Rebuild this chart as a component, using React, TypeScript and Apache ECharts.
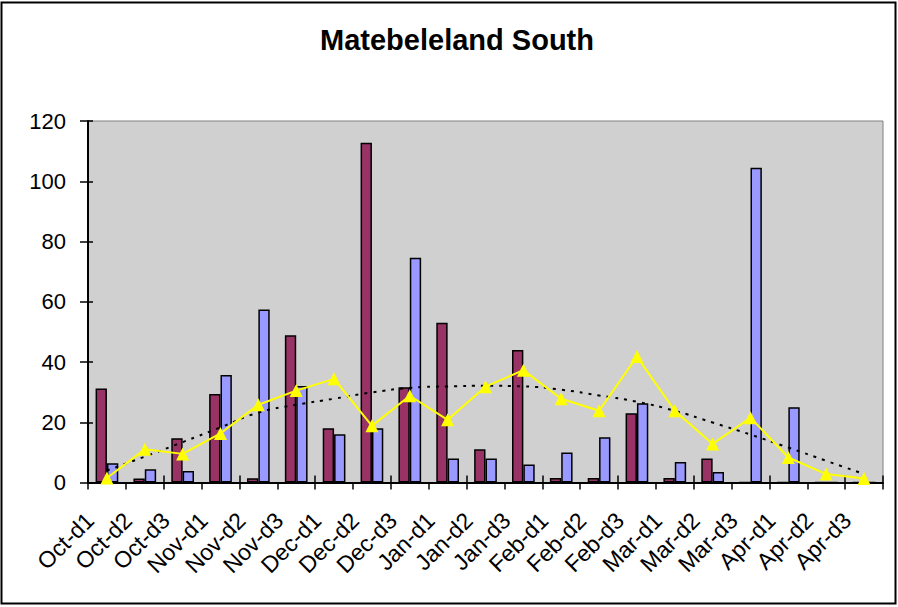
import React, { useEffect, useRef } from "react";
import * as echarts from "echarts";

const categories = [
  "Oct-d1", "Oct-d2", "Oct-d3", "Nov-d1", "Nov-d2", "Nov-d3", "Dec-d1", "Dec-d2", "Dec-d3",
  "Jan-d1", "Jan-d2", "Jan-d3", "Feb-d1", "Feb-d2", "Feb-d3", "Mar-d1", "Mar-d2", "Mar-d3",
  "Apr-d1", "Apr-d2", "Apr-d3",
];
const seriesMaroon = [31.2, 1.3, 14.7, 29.4, 1.4, 48.9, 18, 112.8, 31.6, 53, 11, 44, 1.5, 1.5, 23, 1.5, 8, 0, 0, 0, 0];
const seriesBlue = [6.4, 4.4, 3.8, 35.7, 57.4, 32, 16, 18, 74.6, 8, 8, 6, 10, 15, 26.3, 6.8, 3.5, 104.5, 25, 0, 0];
const seriesYellow = [1.5, 11, 9.5, 16.3, 25.8, 30.5, 34.4, 18.8, 28.8, 20.8, 31.8, 37.3, 27.8, 23.8, 41.8, 23.8, 12.8, 21.5, 8.3, 2.8, 1.3];
const trendValues = [4, 8.6, 13.4, 18.3, 23.2, 25.8, 27.8, 29.9, 31.4, 31.9, 32.1, 31.9, 30.8, 28.9, 26.8, 23.8, 19.9, 15.9, 11.6, 7.2, 2.8];
const yTicks = { min: 0, max: 120, interval: 20 };

export default function App() {
  const ref = useRef<HTMLDivElement>(null);
  useEffect(() => {
    if (!ref.current) return;
    const chart = echarts.init(ref.current, null, { renderer: "svg" });
    const font = "Arial, 'Liberation Sans', sans-serif";
    chart.setOption({
      animation: false,
      backgroundColor: "#ffffff",
      title: {
        text: "Matebeleland South",
        left: 452,
        top: 20,
        textAlign: "center",
        textStyle: { fontFamily: font, fontSize: 29, fontWeight: "bold", color: "#000" },
      },
      graphic: [
        {
          type: "rect",
          shape: { x: 1.5, y: 2.5, width: 894, height: 601 },
          style: { fill: "none", stroke: "#000", lineWidth: 2 },
          silent: true,
        },
      ],
      grid: {
        left: 88,
        right: 15,
        top: 121,
        bottom: 124.5,
        show: true,
        backgroundColor: "#d0d0d0",
        borderColor: "#808080",
        borderWidth: 1,
      },
      xAxis: [
        {
          type: "category",
          data: categories,
          boundaryGap: true,
          axisLine: { lineStyle: { color: "#000", width: 2 } },
          axisTick: { show: true, length: 7, lineStyle: { color: "#000", width: 1.5 } },
          axisLabel: {
            rotate: 45,
            interval: 0,
            margin: 17,
            padding: [0, 24, 0, 0],
            fontFamily: font,
            fontSize: 23,
            color: "#000",
          },
          splitLine: { show: false },
        },
        {
          type: "category",
          data: categories,
          position: "bottom",
          boundaryGap: true,
          axisLine: { show: false },
          axisTick: { show: true, inside: true, length: 7, lineStyle: { color: "#000", width: 1.5 } },
          axisLabel: { show: false },
          splitLine: { show: false },
        },
      ],
      yAxis: [
        {
          type: "value",
          ...yTicks,
          axisLine: { show: true, lineStyle: { color: "#000", width: 2 } },
          axisTick: { show: true, length: 8, lineStyle: { color: "#000", width: 1.5 } },
          axisLabel: { margin: 22, fontFamily: font, fontSize: 22, color: "#000" },
          splitLine: { show: false },
        },
        {
          type: "value",
          ...yTicks,
          position: "left",
          axisLine: { show: false },
          axisTick: { show: true, inside: true, length: 5, lineStyle: { color: "#000", width: 1.5 } },
          axisLabel: { show: false },
          splitLine: { show: false },
        },
      ],
      series: [
        {
          type: "bar",
          data: seriesMaroon,
          barGap: "0%",
          barCategoryGap: "40%",
          itemStyle: { color: "#993366", borderColor: "#000", borderWidth: 1.5 },
          z: 2,
        },
        {
          type: "bar",
          data: seriesBlue,
          barGap: "0%",
          barCategoryGap: "40%",
          itemStyle: { color: "#9999ff", borderColor: "#000", borderWidth: 1.5 },
          z: 2,
        },
        {
          type: "line",
          data: trendValues,
          smooth: true,
          symbol: "none",
          lineStyle: { color: "#000", width: 2, type: [3, 6] },
          z: 3,
        },
        {
          type: "line",
          data: seriesYellow,
          symbol: "triangle",
          symbolSize: 13,
          itemStyle: { color: "#ffff00" },
          lineStyle: { color: "#ffff00", width: 2 },
          z: 4,
        },
      ],
    });
    return () => chart.dispose();
  }, []);
  return (
    <div
      ref={ref}
      style={{ position: "fixed", left: 0, top: 0, width: 898, height: 607 }}
    />
  );
}
